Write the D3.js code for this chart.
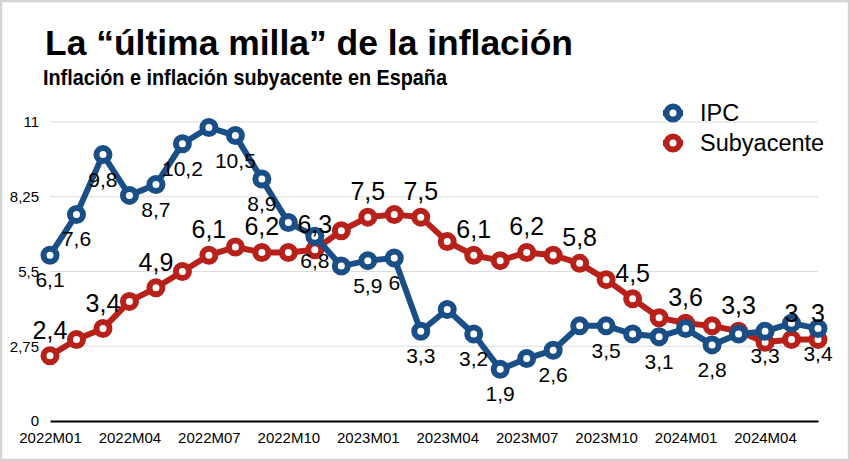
<!DOCTYPE html>
<html><head><meta charset="utf-8">
<script src="https://cdn.jsdelivr.net/npm/d3@7"></script>
<style>
html,body{margin:0;padding:0;background:#fff;}
svg{display:block;font-family:"Liberation Sans",Arial,Helvetica,sans-serif;}
</style></head>
<body><svg id="c" width="850" height="461"></svg>
<script>
const months = ["2022M01","2022M02","2022M03","2022M04","2022M05","2022M06","2022M07","2022M08","2022M09","2022M10","2022M11","2022M12",
"2023M01","2023M02","2023M03","2023M04","2023M05","2023M06","2023M07","2023M08","2023M09","2023M10","2023M11","2023M12",
"2024M01","2024M02","2024M03","2024M04","2024M05","2024M06"];
const ipc = [6.1,7.6,9.8,8.3,8.7,10.2,10.8,10.5,8.9,7.3,6.8,5.7,5.9,6.0,3.3,4.1,3.2,1.9,2.3,2.6,3.5,3.5,3.2,3.1,3.4,2.8,3.2,3.3,3.6,3.4];
const subyacente = [2.4,3.0,3.4,4.4,4.9,5.5,6.1,6.4,6.2,6.2,6.3,7.0,7.5,7.6,7.5,6.6,6.1,5.9,6.2,6.1,5.8,5.2,4.5,3.8,3.6,3.5,3.3,2.9,3.0,3.0];
const ipcLabelIdx = [0,1,2,4,5,7,8,10,12,13,14,16,17,19,21,23,25,27,29];
const subLabelIdx = [0,2,4,6,8,10,12,14,16,18,20,22,24,26,28,29];
const yTicks = [0,2.75,5.5,8.25,11];
const xTickLabels = ["2022M01","2022M04","2022M07","2022M10","2023M01","2023M04","2023M07","2023M10","2024M01","2024M04"];
const seriesNames = ["IPC","Subyacente"];
const title = "La “última milla” de la inflación";
const subtitle = "Inflación e inflación subyacente en España";

const BLUE = "#1a4e86", RED = "#b8201a";
const svg = d3.select("#c");
const W = 850, H = 461;

svg.append("rect").attr("x",1).attr("y",1).attr("width",W-2).attr("height",H-2)
  .attr("fill","#fff").attr("stroke","#d4d4d4").attr("stroke-width",2.5);

svg.append("text").attr("x",45).attr("y",55).attr("font-size",35).attr("font-weight","bold")
  .attr("textLength",528).attr("lengthAdjust","spacingAndGlyphs").text(title);
svg.append("text").attr("x",43).attr("y",85).attr("font-size",22.5).attr("font-weight","bold")
  .attr("font-family","'Liberation Sans Narrow','Arial Narrow',sans-serif")
  .attr("textLength",404).attr("lengthAdjust","spacingAndGlyphs").text(subtitle);

const x = d3.scalePoint().domain(months).range([50,818]);
const y = d3.scaleLinear().domain([0,11]).range([421,122]);
const fmt = v => String(v).replace(".",",");

// gridlines
svg.append("g").selectAll("line").data(yTicks.filter(d=>d>0)).join("line")
  .attr("x1",x(months[0])).attr("x2",x(months[months.length-1]))
  .attr("y1",d=>y(d)).attr("y2",d=>y(d)).attr("stroke","#dcdcdc").attr("stroke-width",1.2);

// y axis labels
const yAxis = d3.axisLeft(y).tickValues(yTicks).tickFormat(d=>fmt(d)).tickSize(0).tickPadding(0);
const gy = svg.append("g").attr("transform","translate(39,0)").call(yAxis);
gy.select(".domain").remove();
gy.selectAll("text").attr("font-size",15).attr("fill","#000").attr("font-family","'Liberation Sans',Arial,sans-serif");

// x axis
const xAxis = d3.axisBottom(x).tickValues(xTickLabels).tickSize(0).tickPadding(11);
const gx = svg.append("g").attr("transform",`translate(0,${y(0)})`).call(xAxis);
gx.select(".domain").attr("stroke","#000").attr("stroke-width",2);
gx.selectAll("text").attr("font-size",15).attr("fill","#000").attr("font-family","'Liberation Sans',Arial,sans-serif");

const line = d3.line().x((d,i)=>x(months[i])).y(d=>y(d));
function drawSeries(vals,color){
  const g = svg.append("g");
  g.append("path").datum(vals).attr("d",line).attr("fill","none").attr("stroke",color)
    .attr("stroke-width",6).attr("stroke-linejoin","round");
  g.selectAll("circle").data(vals).join("circle")
    .attr("cx",(d,i)=>x(months[i])).attr("cy",d=>y(d)).attr("r",6.5)
    .attr("fill","#fff").attr("stroke",color).attr("stroke-width",6);
}
drawSeries(subyacente,RED);
drawSeries(ipc,BLUE);

// labels
svg.append("g").selectAll("text").data(subLabelIdx).join("text")
  .attr("x",i=>x(months[i])).attr("y",i=>y(subyacente[i])-17)
  .attr("text-anchor","middle").attr("font-size",25).attr("fill","#000").text(i=>fmt(subyacente[i]));
svg.append("g").selectAll("text").data(ipcLabelIdx).join("text")
  .attr("x",i=>x(months[i])).attr("y",i=>y(ipc[i])+32)
  .attr("text-anchor","middle").attr("font-size",21).attr("fill","#000").text(i=>fmt(ipc[i]));

// legend
const leg = svg.append("g").attr("transform","translate(673,113)");
[BLUE,RED].forEach((c,k)=>{
  const r = leg.append("g").attr("transform",`translate(0,${k*30})`);
  r.append("line").attr("x1",-10).attr("x2",10).attr("stroke",c).attr("stroke-width",6);
  r.append("circle").attr("r",6.5).attr("fill","#fff").attr("stroke",c).attr("stroke-width",6);
  r.append("text").attr("x",27).attr("y",8).attr("font-size",23.5).attr("fill","#000").text(seriesNames[k]);
});
</script></body></html>
